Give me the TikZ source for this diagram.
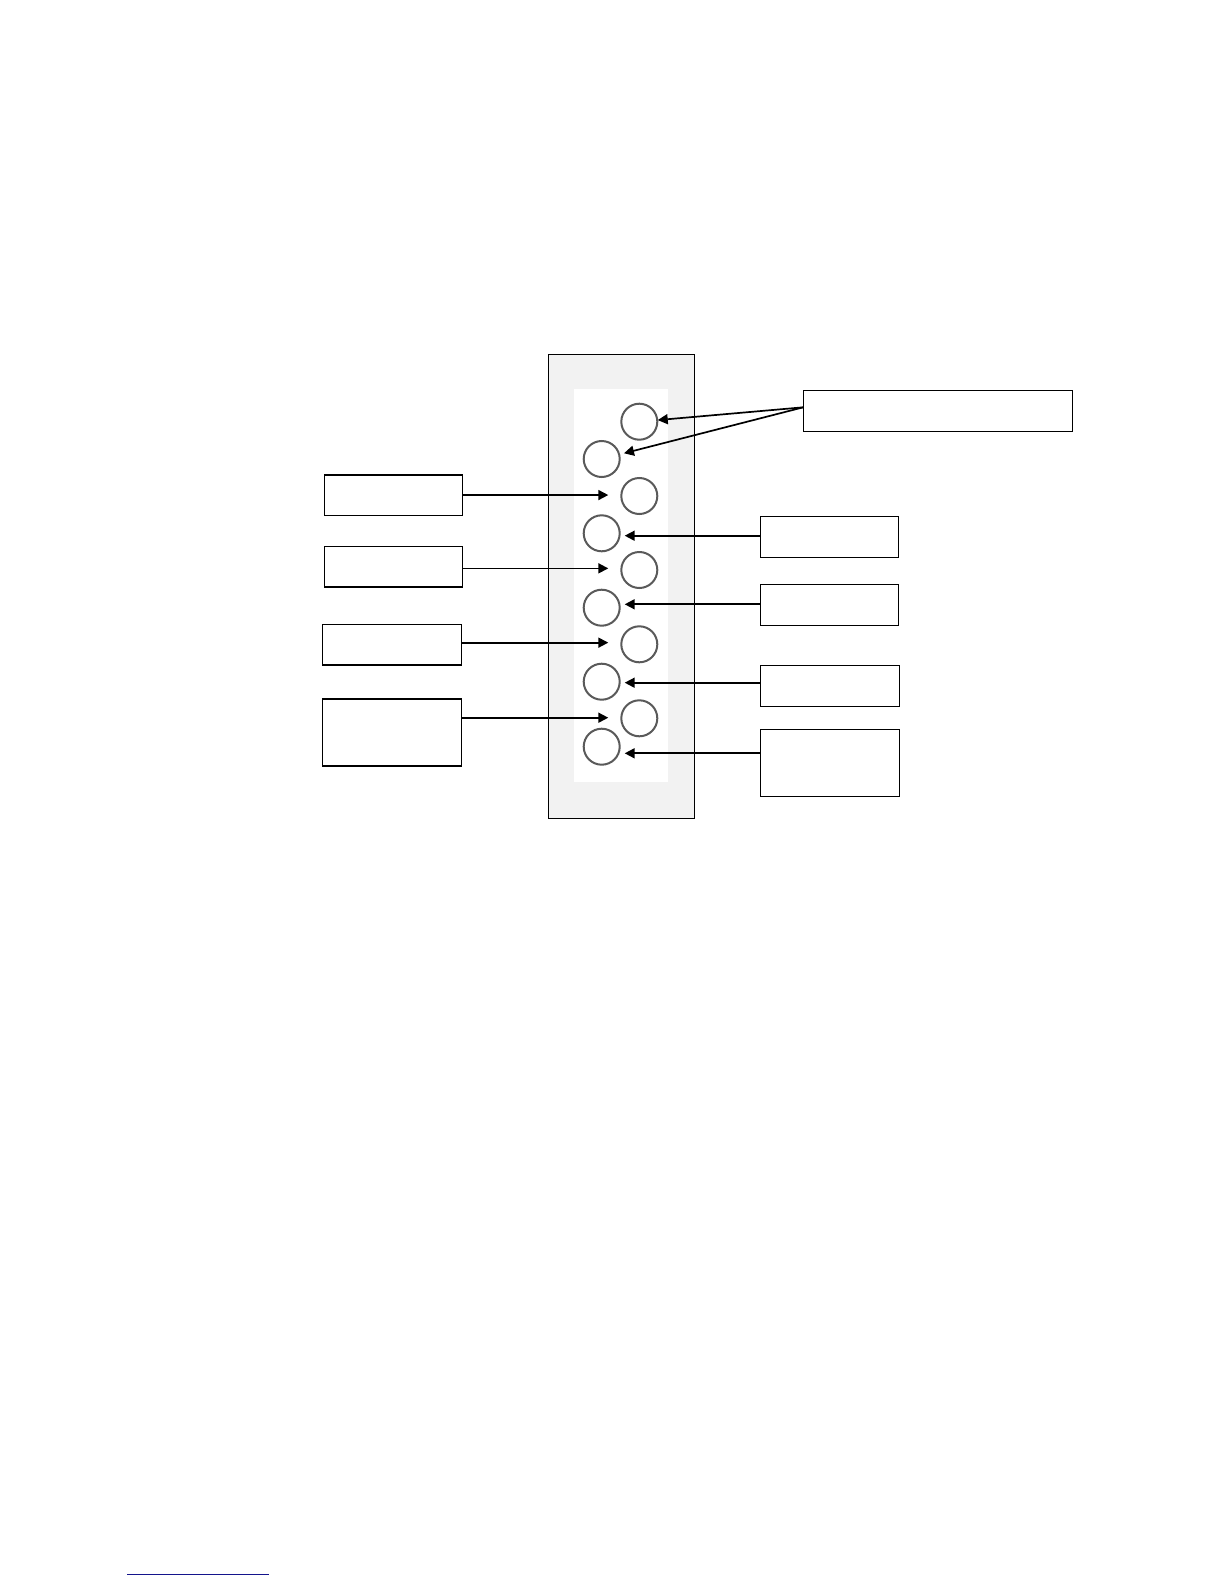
\documentclass[tikz,border=0pt]{standalone}
\usetikzlibrary{arrows.meta}
\definecolor{panelgray}{RGB}{242,242,242}
\definecolor{ringgray}{RGB}{90,90,90}
\definecolor{linkblue}{RGB}{20,20,140}
\begin{document}
\begin{tikzpicture}[x=1pt,y=-1pt,
  box/.style={draw=black,line width=1.5pt,fill=white,anchor=north west,inner sep=0pt,outer sep=0pt},
  port/.style={circle,draw=ringgray,line width=2pt,minimum size=36pt,inner sep=0pt,outer sep=0pt},
  arr/.style={line width=1.7pt,-{Triangle[length=10pt,width=10pt]}}]
\useasboundingbox (0,0) rectangle (1224,1584);
% panel
\node[draw=black,line width=1.2pt,fill=panelgray,anchor=north west,inner sep=0pt,outer sep=0pt,minimum width=146pt,minimum height=464pt] (panel) at (548.3,354.3) {};
\node[fill=white,anchor=north west,inner sep=0pt,outer sep=0pt,minimum width=94pt,minimum height=392.7pt] (inner) at (574,389) {};
% ports
\node[port] (r1) at (639.3,421.7) {};
\node[port] (r2) at (639.3,496) {};
\node[port] (r3) at (639.3,570) {};
\node[port] (r4) at (639.3,644.3) {};
\node[port] (r5) at (639.3,718.3) {};
\node[port] (l1) at (601.7,459) {};
\node[port] (l2) at (601.7,533.3) {};
\node[port] (l3) at (601.7,607.7) {};
\node[port] (l4) at (601.7,681.7) {};
\node[port] (l5) at (601.7,746.7) {};
% left boxes
\node[box,minimum width=138pt,minimum height=40.7pt] (L1) at (324.3,475) {};
\node[box,minimum width=138pt,minimum height=40.3pt] (L2) at (324.3,546.7) {};
\node[box,minimum width=139pt,minimum height=40.3pt] (L3) at (322.7,624.7) {};
\node[box,minimum width=139pt,minimum height=67pt] (L4) at (322.7,699) {};
% right boxes
\node[box,minimum width=269pt,minimum height=40.6pt] (T) at (803.3,390.7) {};
\node[box,minimum width=138.4pt,minimum height=41pt] (R1) at (760.3,516.3) {};
\node[box,minimum width=138.4pt,minimum height=40.6pt] (R2) at (760.3,584.7) {};
\node[box,minimum width=139pt,minimum height=41pt] (R3) at (760.3,665.3) {};
\node[box,minimum width=139pt,minimum height=66.6pt] (R4) at (760.3,729.7) {};
% connectors from the top box
\draw[arr,shorten >=0.5pt] ([yshift=3.7pt]T.west) -- (r1);
\draw[arr,shorten >=5pt] ([yshift=3.7pt]T.west) -- (l1);
% left connectors
\draw[arr] ([yshift=0.3pt]L1.east) -- ([xshift=-13pt,yshift=0.3pt]L1.east -| r2.west);
\draw[arr] ([yshift=-1.5pt]L2.east) -- ([xshift=-13pt,yshift=-1.5pt]L2.east -| r3.west);
\draw[arr] ([yshift=2.2pt]L3.east) -- ([xshift=-13pt,yshift=2.2pt]L3.east -| r4.west);
\draw[arr] ([yshift=14.8pt]L4.east) -- ([xshift=-13pt,yshift=14.8pt]L4.east -| r5.west);
% right connectors
\draw[arr] ([yshift=1.1pt]R1.west) -- ([xshift=5pt,yshift=1.1pt]R1.west -| l2.east);
\draw[arr] ([yshift=0.7pt]R2.west) -- ([xshift=5pt,yshift=0.7pt]R2.west -| l3.east);
\draw[arr] ([yshift=3.1pt]R3.west) -- ([xshift=5pt,yshift=3.1pt]R3.west -| l4.east);
\draw[arr] ([yshift=9.7pt]R4.west) -- ([xshift=5pt,yshift=9.7pt]R4.west -| l5.east);
% footnote rule
\draw[linkblue,line width=1.2pt] (127,1574.7) -- (269,1574.7);
\end{tikzpicture}
\end{document}
